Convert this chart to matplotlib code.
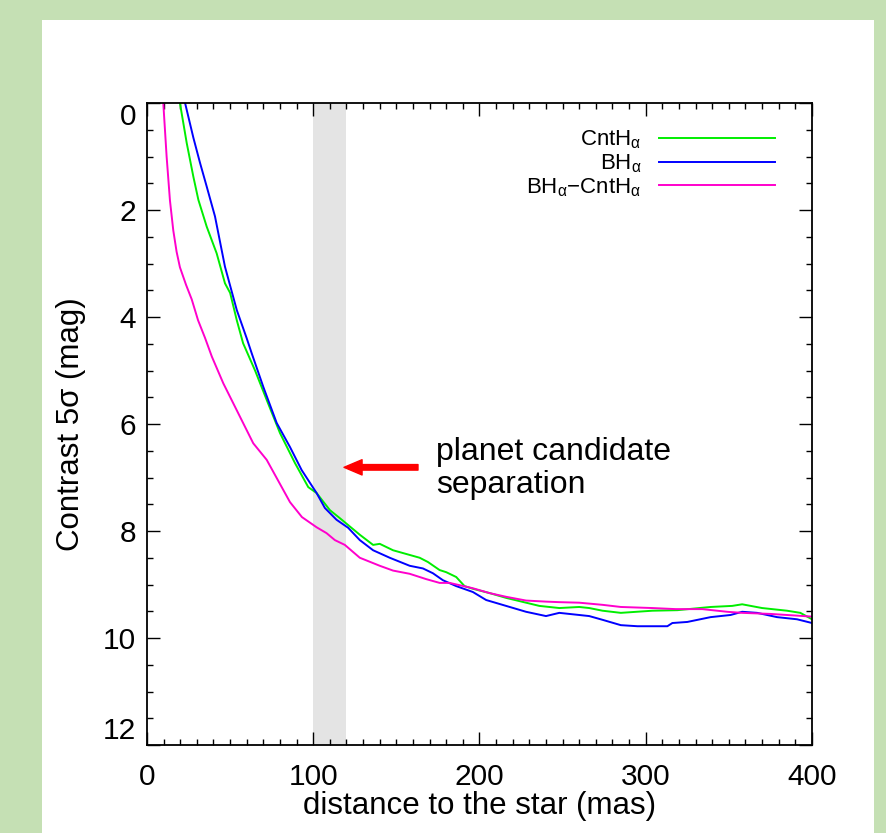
import matplotlib
matplotlib.use("Agg")
import matplotlib.pyplot as plt
from matplotlib.patches import Rectangle
from matplotlib.ticker import MultipleLocator

# ---- data ----
x_cnt = [19.0, 19.8, 23.9, 27.9, 30.9, 35.9, 41.9, 46.9, 50, 54, 57.8, 65, 72, 80, 89, 97, 102, 110,
         116, 128, 136, 140, 148, 156, 164, 169, 176, 180, 186, 191, 196, 206, 216, 228, 236,
         248, 260, 266, 274, 285, 304, 319, 339, 352, 358, 370, 385, 393, 400]
y_cnt = [-0.3, 0, 0.75, 1.38, 1.81, 2.31, 2.81, 3.37, 3.55, 4.06, 4.49, 5.0, 5.55, 6.17, 6.73, 7.18,
         7.29, 7.61, 7.76, 8.07, 8.26, 8.24, 8.36, 8.43, 8.5, 8.58, 8.73, 8.77, 8.86, 9.03, 9.08,
         9.16, 9.25, 9.34, 9.4, 9.44, 9.42, 9.44, 9.49, 9.53, 9.49, 9.48, 9.42, 9.40, 9.37, 9.44,
         9.49, 9.53, 9.65]

x_b = [22.3, 22.9, 27.9, 31.9, 35.9, 40.9, 46.9, 54, 60, 63, 70, 78, 86, 93, 102, 107, 114, 121, 128,
       136, 146, 158, 166, 172, 178, 186, 196, 204, 216, 228, 240, 248, 260, 266, 274, 285, 295,
       304, 313, 316, 325, 339, 351, 358, 367, 379, 391, 400]
y_b = [-0.3, 0, 0.65, 1.12, 1.56, 2.12, 3.06, 3.87, 4.40, 4.68, 5.31, 5.98, 6.43, 6.86, 7.29, 7.57,
       7.79, 7.94, 8.17, 8.36, 8.5, 8.65, 8.7, 8.79, 8.92, 9.03, 9.14, 9.29, 9.4, 9.51, 9.59,
       9.53, 9.57, 9.59, 9.66, 9.76, 9.78, 9.78, 9.78, 9.72, 9.70, 9.61, 9.57, 9.51, 9.53, 9.61,
       9.65, 9.72]

x_d = [9.5, 9.8, 11.8, 13.8, 15.8, 17.8, 19.8, 23.5, 26.9, 30.7, 34.9, 39, 45.9, 54.9, 63.9, 72, 86,
       93.2, 102, 108, 113, 119, 128, 140, 148, 158, 168, 176, 182, 196, 206, 216, 228, 240, 248,
       260, 274, 285, 304, 318, 334, 349, 358, 375, 385, 395, 400]
y_d = [-0.3, 0, 1.0, 1.82, 2.38, 2.78, 3.07, 3.40, 3.67, 4.06, 4.39, 4.74, 5.24, 5.8, 6.36, 6.67,
       7.46, 7.74, 7.93, 8.04, 8.17, 8.26, 8.5, 8.65, 8.74, 8.8, 8.9, 8.97, 8.97, 9.07, 9.16,
       9.23, 9.3, 9.32, 9.33, 9.34, 9.38, 9.42, 9.44, 9.46, 9.46, 9.51, 9.53, 9.55, 9.57, 9.59, 9.6]

labels = [r'CntH$_\mathrm{\alpha}$', r'BH$_\mathrm{\alpha}$',
          r'BH$_\mathrm{\alpha}$' + '\u2212' + r'CntH$_\mathrm{\alpha}$']
colors = ['#00ee00', '#0000ff', '#ff00cc']
band = (100, 120)
x_ticks = [0, 100, 200, 300, 400]
y_ticks = [0, 2, 4, 6, 8, 10, 12]

plt.rcParams['font.family'] = ['Liberation Sans', 'DejaVu Sans']
plt.rcParams['mathtext.fontset'] = 'custom'
plt.rcParams['mathtext.rm'] = 'Liberation Sans'
plt.rcParams['mathtext.it'] = 'Liberation Sans:italic'

fig = plt.figure(figsize=(8.87, 8.33), dpi=100, facecolor='#c5e0b4')
fig.patches.append(Rectangle((42 / 887, 0), (874 - 42) / 887, (833 - 20) / 833,
                             transform=fig.transFigure, facecolor='white',
                             edgecolor='none', zorder=-10))
ax = fig.add_axes([147 / 887, 88 / 833, 665 / 887, 642 / 833])
ax.set_facecolor('none')

ax.axvspan(band[0], band[1], color='#e4e4e4', zorder=0, lw=0)
ax.plot(x_cnt, y_cnt, color=colors[0], lw=1.4, label=labels[0])
ax.plot(x_b, y_b, color=colors[1], lw=1.4, label=labels[1])
ax.plot(x_d, y_d, color=colors[2], lw=1.4, label=labels[2])

ax.set_xlim(0, 400)
ax.set_ylim(12, 0)
ax.set_xticks(x_ticks)
ax.set_yticks(y_ticks)
ax.xaxis.set_minor_locator(MultipleLocator(10))
ax.yaxis.set_minor_locator(MultipleLocator(0.5))
ax.tick_params(which='both', direction='in', top=True, right=True, width=1.0, color='black')
ax.tick_params(which='major', length=9.5)
ax.tick_params(which='minor', length=4.5)
ax.tick_params(axis='x', which='major', labelsize=21.5, pad=13)
ax.tick_params(axis='y', which='major', labelsize=21.5, pad=8)
for sp in ax.spines.values():
    sp.set_linewidth(1.3)

yt = ax.yaxis.get_major_ticks()
yt[0].label1.set_va('top')
yt[-1].label1.set_va('bottom')

ax.set_xlabel('distance to the star (mas)', fontsize=22.5, labelpad=0)
ax.set_ylabel('Contrast 5\u03c3 (mag)', fontsize=22.5, labelpad=12)

ax.annotate('', xy=(118.5, 6.81), xytext=(163, 6.81),
            arrowprops=dict(arrowstyle='simple,head_length=0.65,head_width=0.55,tail_width=0.2',
                            color='red', shrinkA=0, shrinkB=0, mutation_scale=20))
ax.text(174, 6.25, 'planet candidate\nseparation', fontsize=23, ha='left', va='top',
        linespacing=1.1)

leg = ax.legend(loc='upper right', bbox_to_anchor=(0.944, 0.96), frameon=False,
                markerfirst=False, fontsize=16, handlelength=5.2, handletextpad=0.8,
                labelspacing=0.05, borderpad=0, borderaxespad=0)
for t in leg.get_texts():
    t.set_ha('right')

fig.savefig('out.png', dpi=100, facecolor=fig.get_facecolor())
